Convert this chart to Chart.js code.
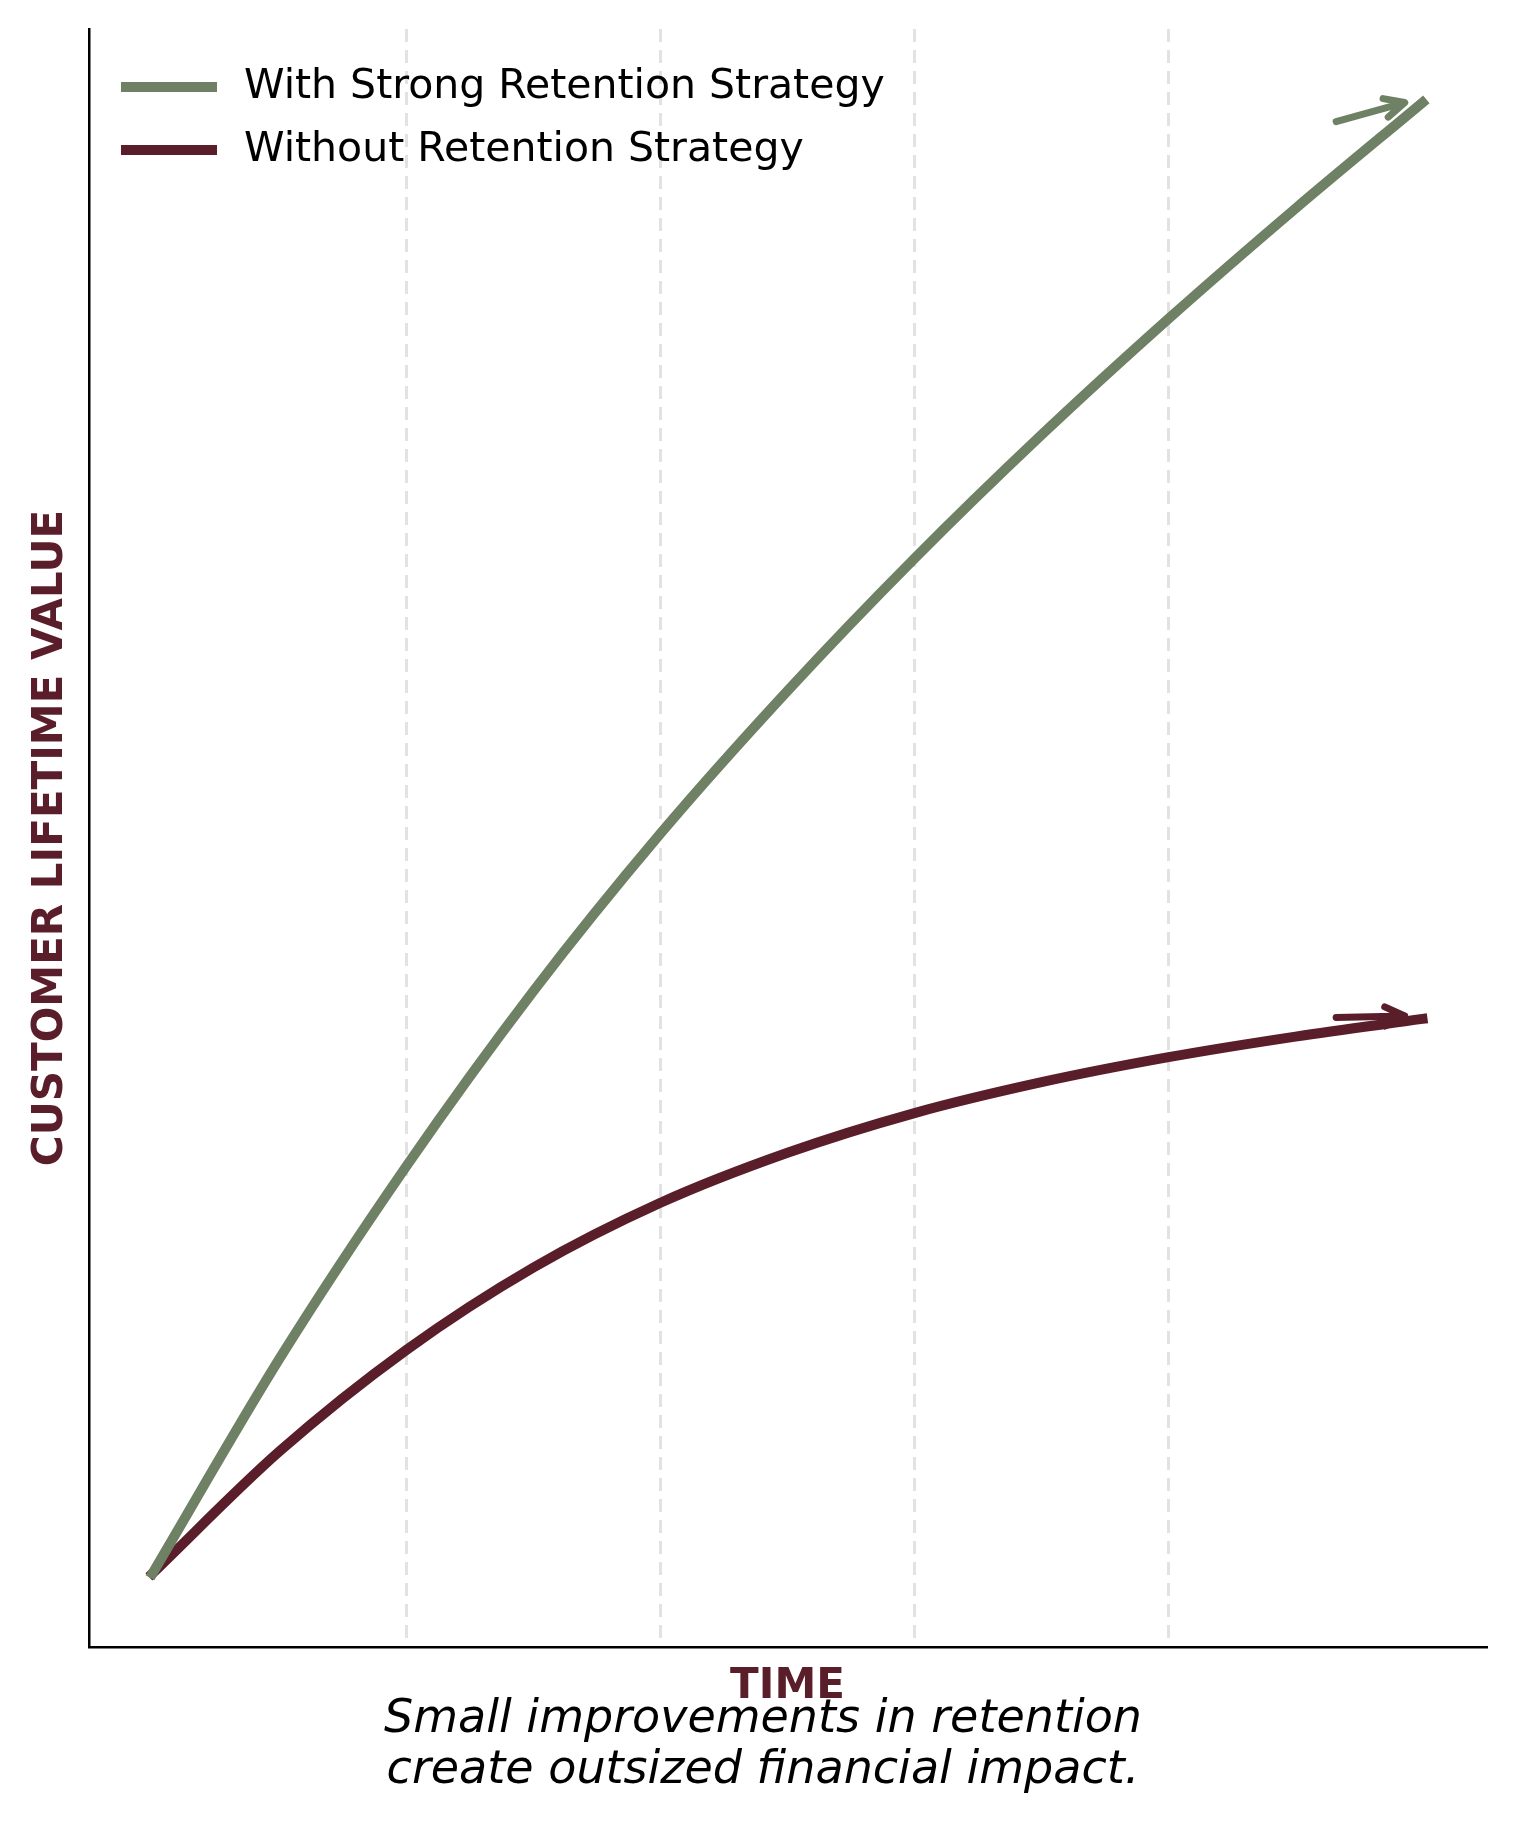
<!DOCTYPE html>
<html>
<head>
<meta charset="utf-8">
<script src="https://cdn.jsdelivr.net/npm/chart.js@4.4.1/dist/chart.umd.min.js"></script>
<style>
    html, body { margin: 0; padding: 0; background: #ffffff; }
    #wrap { position: relative; width: 1513px; height: 1823px; }
</style>
</head>
<body>
<div id="wrap"><canvas id="clvChart"></canvas></div>
<script>
// --- Data (arbitrary value units) ---
const years = [0, 0.5, 1, 1.5, 2, 2.5, 3, 3.5, 4, 4.5, 5];
const withRetention = [0, 14.6, 27.7, 39.6, 50.3, 60.0, 69.0, 77.4, 85.3, 92.8, 100];
const withoutRetention = [0, 8.3, 15.2, 20.8, 25.2, 28.6, 31.3, 33.4, 35.1, 36.5, 37.7];
const seriesNames = ['With Strong Retention Strategy', 'Without Retention Strategy'];
const gridYears = [1, 2, 3, 4];

// arrow annotations at the end of each curve: [x, y] tail -> head
const arrowTails = [[4.66, 98.7], [4.66, 37.8]];
const arrowHeads = [[4.93, 100.0], [4.93, 37.9]];

const GREEN = '#6f8164';
const MAROON = '#5a1e2b';
const FONT = '"DejaVu Sans", "Liberation Sans", sans-serif';

// --- Arrows at the end of the curves ---
const arrowPlugin = {
    id: 'endArrows',
    afterDatasetsDraw(chart) {
        const { ctx, scales: { x, y } } = chart;
        const colors = [GREEN, MAROON];
        arrowTails.forEach((tail, i) => {
            const x0 = x.getPixelForValue(tail[0]);
            const y0 = y.getPixelForValue(tail[1]);
            const x1 = x.getPixelForValue(arrowHeads[i][0]);
            const y1 = y.getPixelForValue(arrowHeads[i][1]);
            const ang = Math.atan2(y1 - y0, x1 - x0);
            const len = 22, spread = 0.45;
            ctx.save();
            ctx.strokeStyle = colors[i];
            ctx.lineWidth = 7;
            ctx.lineCap = 'round';
            ctx.lineJoin = 'round';
            ctx.beginPath();
            ctx.moveTo(x0, y0);
            ctx.lineTo(x1, y1);
            ctx.moveTo(x1 - len * Math.cos(ang - spread), y1 - len * Math.sin(ang - spread));
            ctx.lineTo(x1, y1);
            ctx.lineTo(x1 - len * Math.cos(ang + spread), y1 - len * Math.sin(ang + spread));
            ctx.stroke();
            ctx.restore();
        });
    }
};

// --- Legend, axis titles and caption ---
const textPlugin = {
    id: 'texts',
    afterDraw(chart) {
        const { ctx, chartArea } = chart;
        ctx.save();

        // Legend
        const colors = [GREEN, MAROON];
        ctx.font = '41px ' + FONT;
        ctx.textBaseline = 'middle';
        ctx.textAlign = 'left';
        seriesNames.forEach((name, i) => {
            const cy = 87 + i * 63;
            ctx.strokeStyle = colors[i];
            ctx.lineWidth = 10;
            ctx.lineCap = 'butt';
            ctx.beginPath();
            ctx.moveTo(121, cy);
            ctx.lineTo(217, cy);
            ctx.stroke();
            ctx.fillStyle = '#000000';
            ctx.fillText(name, 244, cy);
        });

        // Axis titles
        ctx.fillStyle = MAROON;
        ctx.font = 'bold 42px ' + FONT;
        ctx.textAlign = 'center';
        ctx.textBaseline = 'alphabetic';
        ctx.fillText('TIME', (chartArea.left + chartArea.right) / 2, 1698);

        ctx.save();
        ctx.translate(62, (chartArea.top + chartArea.bottom) / 2);
        ctx.rotate(-Math.PI / 2);
        ctx.fillText('CUSTOMER LIFETIME VALUE', 0, 0);
        ctx.restore();

        // Caption
        ctx.fillStyle = '#000000';
        ctx.font = 'italic 46px ' + FONT;
        ctx.fillText('Small improvements in retention', 763, 1732);
        ctx.fillText('create outsized financial impact.', 763, 1783);

        ctx.restore();
    }
};

const ctx = document.getElementById('clvChart').getContext('2d');
const clvChart = new Chart(ctx, {
    type: 'line',
    data: {
        datasets: [
            {
                label: seriesNames[0],
                data: years.map((t, i) => ({ x: t, y: withRetention[i] })),
                borderColor: GREEN,
                borderWidth: 10,
                borderCapStyle: 'square',
                cubicInterpolationMode: 'monotone',
                pointRadius: 0,
                fill: false
            },
            {
                label: seriesNames[1],
                data: years.map((t, i) => ({ x: t, y: withoutRetention[i] })),
                borderColor: MAROON,
                borderWidth: 10,
                borderCapStyle: 'square',
                cubicInterpolationMode: 'monotone',
                pointRadius: 0,
                fill: false
            }
        ]
    },
    options: {
        responsive: true,
        maintainAspectRatio: false,
        animation: false,
        devicePixelRatio: 1,
        layout: {
            padding: { left: 89, top: 29, right: 27, bottom: 176 }
        },
        plugins: {
            legend: { display: false },
            tooltip: { enabled: false }
        },
        scales: {
            x: {
                type: 'linear',
                min: -0.25,
                max: 5.25,
                z: 1,
                afterBuildTicks: (scale) => {
                    scale.ticks = gridYears.map(v => ({ value: v }));
                },
                ticks: { display: false },
                grid: {
                    display: true,
                    color: '#e2e2e2',
                    lineWidth: 3,
                    drawTicks: false
                },
                border: { display: true, color: '#000000', width: 2.5, dash: [13, 8] }
            },
            y: {
                min: -5,
                max: 105,
                ticks: { display: false },
                grid: { display: false, drawTicks: false },
                border: { display: true, color: '#000000', width: 2.5 }
            }
        }
    },
    plugins: [arrowPlugin, textPlugin]
});
</script>
</body>
</html>
